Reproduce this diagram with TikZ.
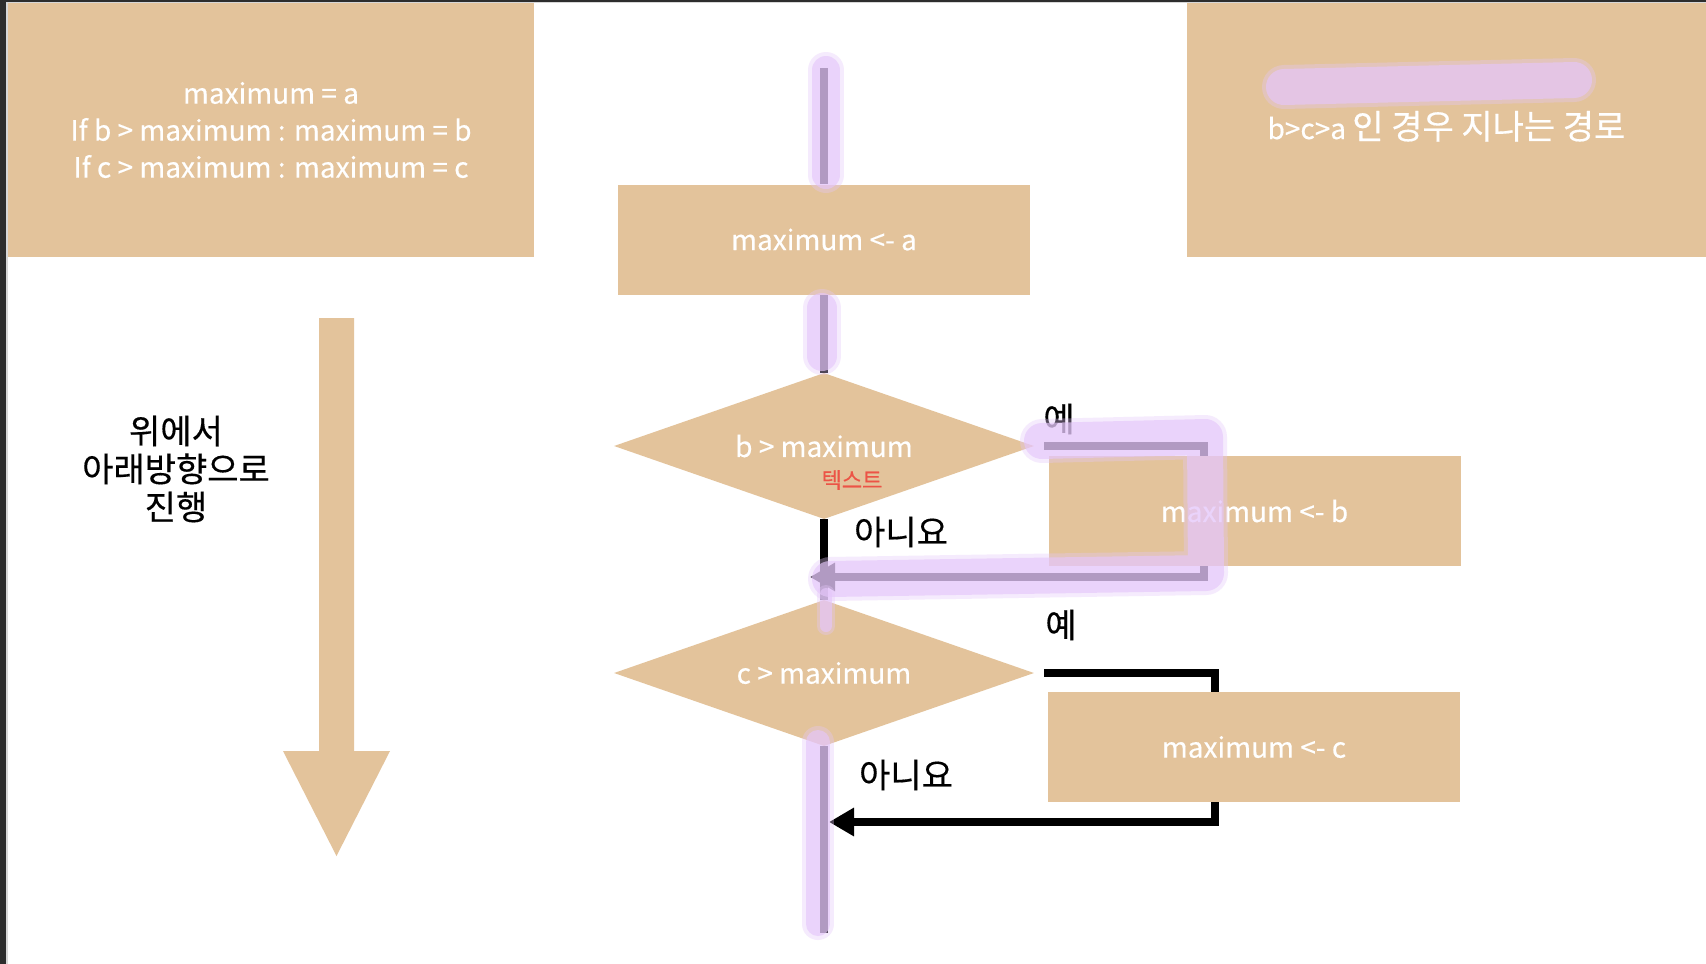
\documentclass[tikz,border=0pt]{standalone}
\usepackage{fontspec}
\newfontfamily\korfont{Noto Sans CJK KR}[FakeBold=0.4]
\usetikzlibrary{shapes.geometric,arrows.meta,backgrounds}
\definecolor{sand}{RGB}{227,195,155}
\definecolor{marker}{RGB}{229,199,250}
\definecolor{edge}{RGB}{45,45,45}
\definecolor{edgeline}{RGB}{215,215,215}
\definecolor{notered}{RGB}{236,84,70}
\begin{document}
\begin{tikzpicture}[x=1pt, y=-1pt,
        every node/.style={font=\korfont\fontsize{34}{38}\selectfont, inner sep=0pt},
        engtext/.style={font=\korfont\fontsize{28}{37}\selectfont},
        sandbox/.style={fill=sand, text=white, engtext, minimum width=412pt, minimum height=110pt},
        decision/.style={diamond, fill=sand, text=white, engtext, aspect=2.88, minimum width=420pt, minimum height=146pt},
        flow/.style={line width=8.5pt},
        back/.style={flow, shorten <=10pt, -{Triangle[length=25pt, width=27pt]}},
        marked/.style 2 args={draw=marker, opacity=0.66, line width=#1, line cap=round, line join=round,
            preaction={draw=marker, opacity=0.35, line width=#2, line cap=round, line join=round}}]
    \useasboundingbox (0,0) rectangle (1706,964);

    \node[sandbox, minimum width=526pt, minimum height=254pt, align=center] (code) at (271,130)
        {maximum = a\\If b > maximum : maximum = b\\If c > maximum : maximum = c};
    \node[sandbox, minimum width=519pt, minimum height=254pt, text depth=10pt, font=\korfont\fontsize{34}{38}\selectfont] (legend) at (1446.5,130)
        {{\fontsize{28}{37}\selectfont b>c>a }인 경우 지나는 경로};
    \node[sandbox] (init) at (824,239.5) {maximum <- a};
    \node[decision] (askb) at (824,446) {b > maximum};
    \node[font=\korfont\fontsize{22}{26}\selectfont, text=notered] (memo) at (852,480) {텍스트};
    \node[sandbox] (takeb) at (1254.5,511) {maximum <- b};
    \node[decision] (askc) at (824,673) {c > maximum};
    \node[sandbox] (takec) at (1254,747) {maximum <- c};

    \coordinate (entry) at (824,68);
    \coordinate (exit) at (824,933);
    \coordinate (bturn) at (1204,577);
    \coordinate (bjoin) at (810,577);
    \coordinate (cturn) at (1215,822);
    \coordinate (cjoin) at (829,822);

    \begin{pgfonlayer}{background}
        \fill[white] (0,0) rectangle (1706,964);
        \fill[edgeline] (0,0) rectangle (8,964);
        \fill[edgeline] (0,0) rectangle (1706,3);
        \fill[edge] (0,0) rectangle (6,964);
        \fill[edge] (0,0) rectangle (1706,2);
        \draw[flow] (entry) -- (init);
        \draw[flow] (init) -- (askb);
        \draw[flow] (askb) -- (askc);
        \draw[flow] (askc) -- (exit);
        \draw[back] (askb.east) -| (bturn) -- (bjoin);
        \draw[back] (askc.east) -| (cturn) -- (cjoin);
    \end{pgfonlayer}

    \node (yesb) at (1059,419) {예};
    \node (nob) at (901,532) {아니요};
    \node (yesc) at (1061,625) {예};
    \node (noc) at (906,775) {아니요};

    \fill[sand] (319,318) -- (354,318) -- (354,751) -- (390,751) -- (336.5,856) -- (283,751) -- (319,751) -- cycle;
    \node[align=center] (way) at (176,469) {위에서\\아래방향으로\\진행};

    \draw[marked={28pt}{36pt}] (826,70) -- (826,175);
    \draw[marked={30pt}{38pt}] (822,308) -- (822,356);
    \draw[marked={36pt}{44pt}] (1042,441) -- (1205,437) -- (1206,573) -- (830,579);
    \draw[marked={12pt}{18pt}] (826,594) -- (826,626);
    \draw[marked={24pt}{32pt}] (818,742) -- (818,924);
    \draw[marked={36pt}{44pt}] (1284,87) -- (1574,80);
\end{tikzpicture}
\end{document}
